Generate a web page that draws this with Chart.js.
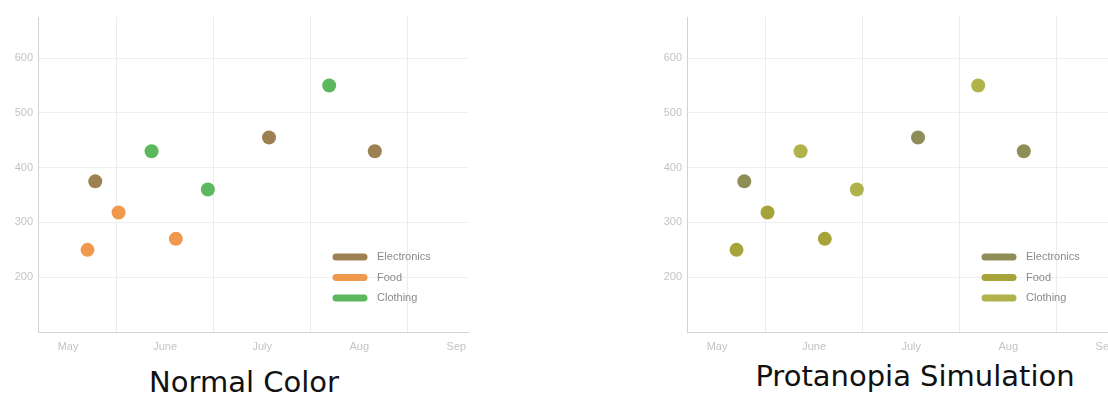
<!DOCTYPE html>
<html>
<head>
    <meta charset="utf-8">
    <title>Sales by Category</title>
    <script src="https://cdn.jsdelivr.net/npm/chart.js"></script>
    <style>
        html, body {
            margin: 0;
            padding: 0;
            background: #fff;
            width: 1108px;
            height: 396px;
            overflow: hidden;
        }
        .panel {
            position: absolute;
            top: 10px;
            width: 480px;
            height: 345px;
            filter: blur(0.7px);
        }
        .caption {
            position: absolute;
            width: 500px;
            text-align: center;
            font-family: "DejaVu Sans", sans-serif;
            font-size: 29px;
            line-height: 29px;
            color: #111;
            white-space: nowrap;
        }
    </style>
</head>
<body>
    <div class="panel" style="left:0px"><canvas id="normalChart"></canvas></div>
    <div class="panel" style="left:649px"><canvas id="protanChart"></canvas></div>
    <div class="caption" style="left:-6px; top:368px">Normal Color</div>
    <div class="caption" style="left:665px; top:362px">Protanopia Simulation</div>

    <script>
        // x values are in months counted from May (0 = May, 1 = June, ...)
        const months = ['May', 'June', 'July', 'Aug', 'Sep'];
        const yTicks = [200, 300, 400, 500, 600];

        const categories = ['Electronics', 'Food', 'Clothing'];
        const electronicsX = [0.28, 2.07, 3.16];
        const electronicsY = [375, 455, 430];
        const foodX = [0.20, 0.52, 1.11];
        const foodY = [250, 318, 270];
        const clothingX = [0.86, 1.44, 2.69];
        const clothingY = [430, 360, 550];

        const normalColors = ['#9e8153', '#f0984c', '#5cb85c'];
        const protanColors = ['#8f8d57', '#a7a33b', '#b0b34c'];

        const seriesX = [electronicsX, foodX, clothingX];
        const seriesY = [electronicsY, foodY, clothingY];

        // legend drawn inside the plot, bottom right
        const insideLegend = {
            id: 'insideLegend',
            afterDraw(chart) {
                const ctx = chart.ctx;
                const area = chart.chartArea;
                const x0 = area.right - 135;
                let y = area.bottom - 75;
                ctx.save();
                ctx.lineCap = 'round';
                ctx.lineWidth = 7;
                ctx.font = '11px "Liberation Sans", Arial, sans-serif';
                ctx.textBaseline = 'middle';
                chart.data.datasets.forEach(ds => {
                    ctx.strokeStyle = ds.backgroundColor;
                    ctx.beginPath();
                    ctx.moveTo(x0 + 3, y);
                    ctx.lineTo(x0 + 31, y);
                    ctx.stroke();
                    ctx.fillStyle = '#8a8a8a';
                    ctx.fillText(ds.label, x0 + 44, y);
                    y += 20.5;
                });
                ctx.restore();
            }
        };

        function makeChart(id, colors) {
            const datasets = categories.map((name, i) => ({
                label: name,
                data: seriesX[i].map((x, j) => ({ x: x, y: seriesY[i][j] })),
                backgroundColor: colors[i],
                borderColor: colors[i],
                borderWidth: 0,
                pointRadius: 7,
                pointHoverRadius: 7
            }));

            return new Chart(document.getElementById(id), {
                type: 'scatter',
                data: { datasets },
                plugins: [insideLegend],
                options: {
                    responsive: true,
                    maintainAspectRatio: false,
                    animation: false,
                    layout: { padding: { top: 7, right: 12, left: 0, bottom: 0 } },
                    plugins: {
                        legend: { display: false },
                        tooltip: { enabled: false }
                    },
                    scales: {
                        x: {
                            type: 'linear',
                            min: -0.31,
                            max: 4.12,
                            afterBuildTicks: s => {
                                s.ticks = [0, 0.5, 1, 1.5, 2, 2.5, 3, 3.5, 4].map(v => ({ value: v }));
                            },
                            afterFit: s => {
                                s.height = 23;
                                s.paddingLeft = 0;
                                s.paddingRight = 0;
                            },
                            ticks: {
                                autoSkip: false,
                                maxRotation: 0,
                                padding: 8,
                                color: '#c4c4c4',
                                font: { family: '"Liberation Sans", Arial, sans-serif', size: 11 },
                                callback: v => Number.isInteger(v) ? months[v] : ''
                            },
                            grid: {
                                drawTicks: false,
                                color: c => (c.tick && c.tick.value % 1 !== 0) ? '#ececec' : 'rgba(0,0,0,0)'
                            },
                            border: { color: '#d2d2d2' }
                        },
                        y: {
                            min: 100,
                            max: 675,
                            afterBuildTicks: s => {
                                s.ticks = yTicks.map(v => ({ value: v }));
                            },
                            afterFit: s => {
                                s.width = 38;
                                s.paddingTop = 0;
                                s.paddingBottom = 0;
                            },
                            ticks: {
                                padding: 5,
                                color: '#c4c4c4',
                                font: { family: '"Liberation Sans", Arial, sans-serif', size: 11 }
                            },
                            grid: {
                                drawTicks: false,
                                color: '#efefef'
                            },
                            border: { color: '#d2d2d2' }
                        }
                    }
                }
            });
        }

        makeChart('normalChart', normalColors);
        makeChart('protanChart', protanColors);
    </script>
</body>
</html>
